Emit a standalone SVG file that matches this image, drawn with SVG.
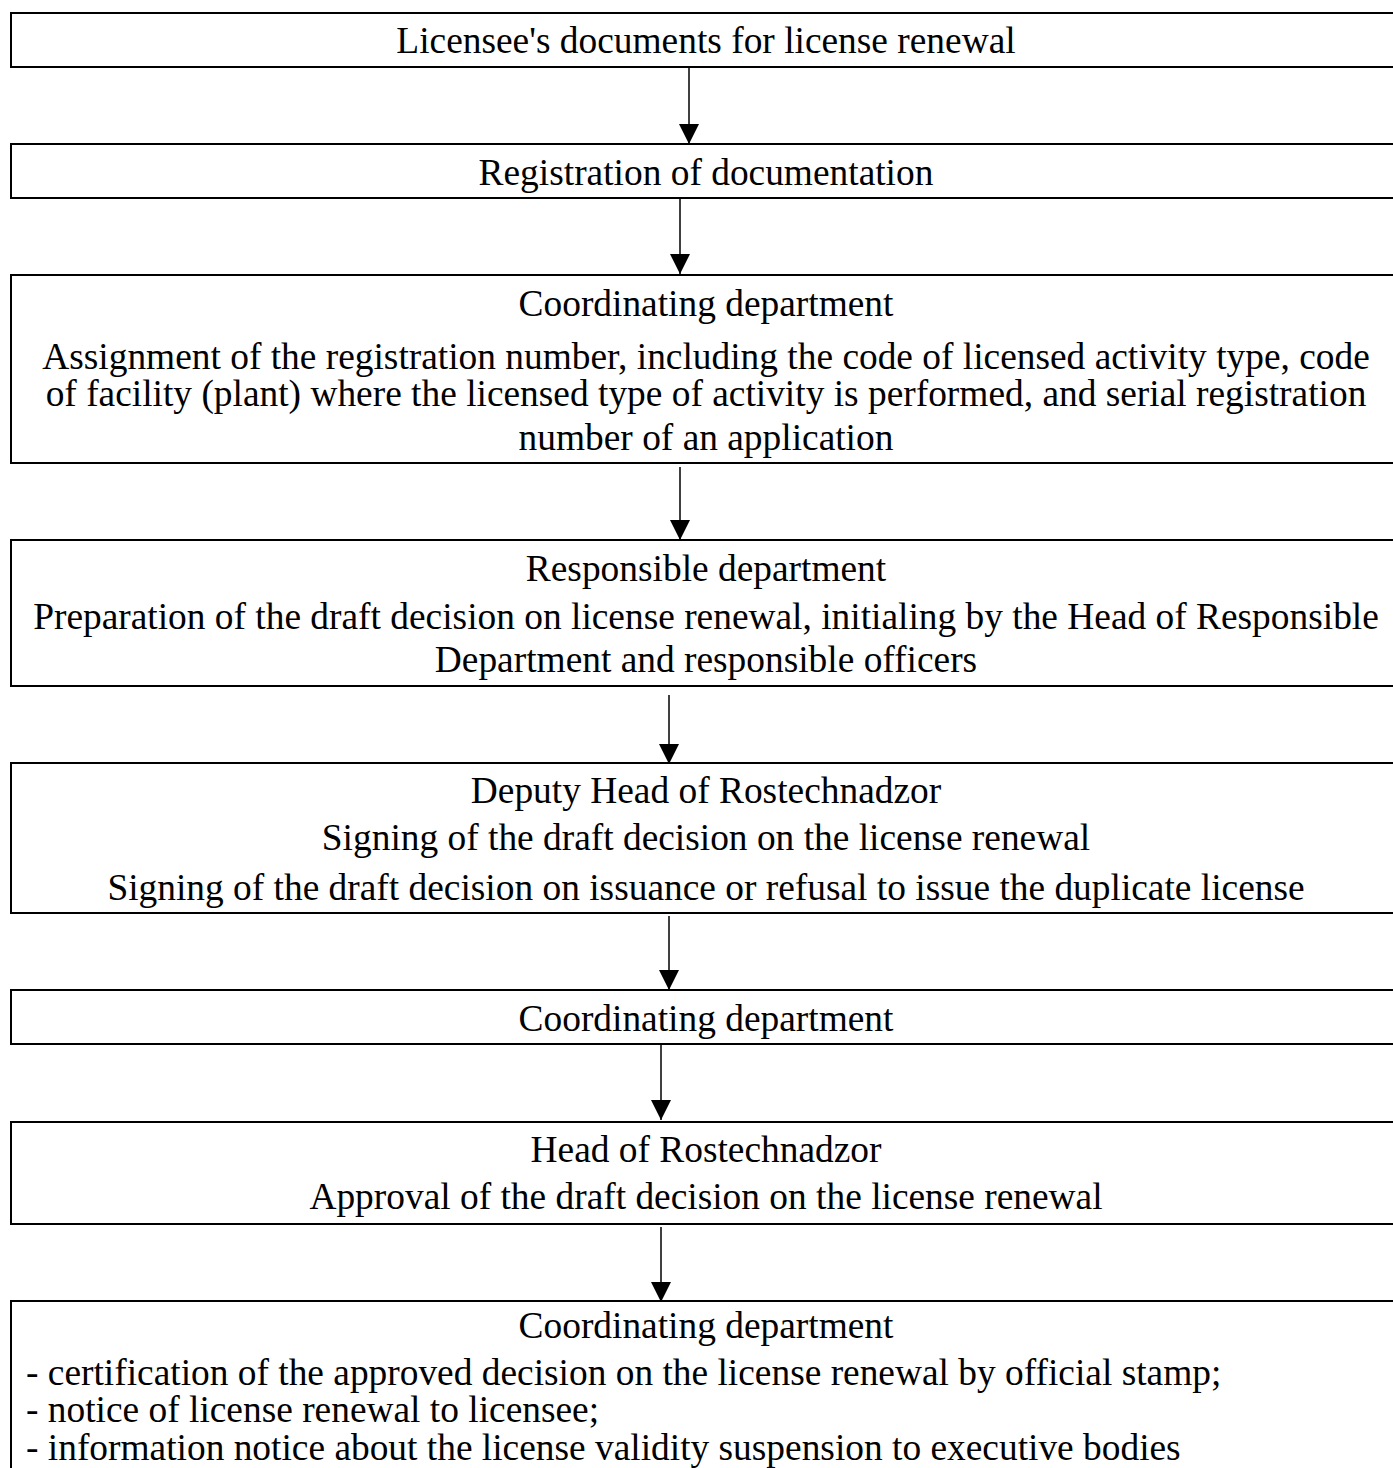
<svg xmlns="http://www.w3.org/2000/svg" width="1393" height="1468" viewBox="0 0 1393 1468">
  <style>
    .box { fill: #ffffff; stroke: #000000; stroke-width: 2; }
    .t { font-family: "Liberation Serif", "Times New Roman", serif; font-size: 37.4px; fill: #000000; text-anchor: middle; }
    .tl { text-anchor: start; }
    .edge { stroke: #000000; stroke-width: 1.5; fill: none; }
  </style>
  <defs>
    <marker id="arrow" viewBox="0 0 20 20" refX="20" refY="10" markerWidth="20" markerHeight="20" markerUnits="userSpaceOnUse" orient="auto">
      <path d="M0,0 L20,10 L0,20 Z" fill="#000000"/>
    </marker>
  </defs>
  <rect width="1393" height="1468" fill="#ffffff"/>

  <g id="n1">
    <rect class="box" x="11" y="13" width="1392" height="54"/>
    <text class="t" x="706" y="53">Licensee's documents for license renewal</text>
  </g>
  <g id="n2">
    <rect class="box" x="11" y="144" width="1392" height="54"/>
    <text class="t" x="706" y="185">Registration of documentation</text>
  </g>
  <g id="n3">
    <rect class="box" x="11" y="275" width="1392" height="188"/>
    <text class="t" x="706" y="316">Coordinating department</text>
    <text class="t" x="706" y="369">Assignment of the registration number, including the code of licensed activity type, code</text>
    <text class="t" x="706" y="406">of facility (plant) where the licensed type of activity is performed, and serial registration</text>
    <text class="t" x="706" y="450">number of an application</text>
  </g>
  <g id="n4">
    <rect class="box" x="11" y="540" width="1392" height="146"/>
    <text class="t" x="706" y="581">Responsible department</text>
    <text class="t" x="706" y="629">Preparation of the draft decision on license renewal, initialing by the Head of Responsible</text>
    <text class="t" x="706" y="672">Department and responsible officers</text>
  </g>
  <g id="n5">
    <rect class="box" x="11" y="763" width="1392" height="150"/>
    <text class="t" x="706" y="803">Deputy Head of Rostechnadzor</text>
    <text class="t" x="706" y="850">Signing of the draft decision on the license renewal</text>
    <text class="t" x="706" y="900">Signing of the draft decision on issuance or refusal to issue the duplicate license</text>
  </g>
  <g id="n6">
    <rect class="box" x="11" y="990" width="1392" height="54"/>
    <text class="t" x="706" y="1031">Coordinating department</text>
  </g>
  <g id="n7">
    <rect class="box" x="11" y="1122" width="1392" height="102"/>
    <text class="t" x="706" y="1162">Head of Rostechnadzor</text>
    <text class="t" x="706" y="1209">Approval of the draft decision on the license renewal</text>
  </g>
  <g id="n8">
    <rect class="box" x="11" y="1301" width="1392" height="200"/>
    <text class="t" x="706" y="1338">Coordinating department</text>
    <text class="t tl" x="26" y="1385">- certification of the approved decision on the license renewal by official stamp;</text>
    <text class="t tl" x="26" y="1422">- notice of license renewal to licensee;</text>
    <text class="t tl" x="26" y="1460">- information notice about the license validity suspension to executive bodies</text>
  </g>

  <g id="connectors">
    <line class="edge" x1="689" y1="67" x2="689" y2="144" marker-end="url(#arrow)"/>
    <line class="edge" x1="680" y1="198" x2="680" y2="274" marker-end="url(#arrow)"/>
    <line class="edge" x1="680" y1="467" x2="680" y2="540" marker-end="url(#arrow)"/>
    <line class="edge" x1="669" y1="695" x2="669" y2="764" marker-end="url(#arrow)"/>
    <line class="edge" x1="669" y1="916" x2="669" y2="990" marker-end="url(#arrow)"/>
    <line class="edge" x1="661" y1="1044" x2="661" y2="1120" marker-end="url(#arrow)"/>
    <line class="edge" x1="661" y1="1227" x2="661" y2="1302" marker-end="url(#arrow)"/>
  </g>
</svg>
